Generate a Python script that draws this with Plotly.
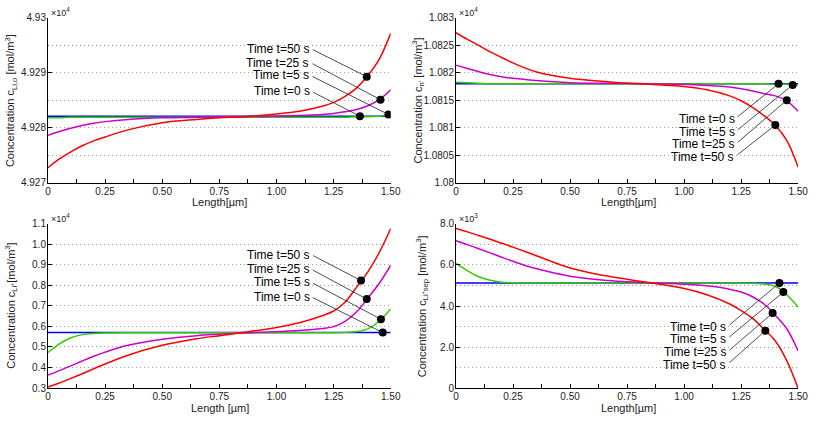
import plotly.graph_objects as go

FIG_W, FIG_H = 818, 421

# shared x positions (Length in um)
length_um = [0, 0.05, 0.1, 0.15, 0.2, 0.25, 0.35, 0.5, 0.65, 0.75, 0.85,
             1.0, 1.1, 1.2, 1.25, 1.3, 1.35, 1.4, 1.45, 1.5]

time_labels = ["Time t=0 s", "Time t=5 s", "Time t=25 s", "Time t=50 s"]
line_colors = ["#0000ff", "#33cc00", "#cc00cc", "#ff0000"]

# top left: c_Li,o  (x1e4 mol/m^3)
clio_t0 = [4.92821] * 20
clio_t5 = [4.92818, 4.92818, 4.92819, 4.92819, 4.92819, 4.92819, 4.92819, 4.92819, 4.92819, 4.92819,
           4.92819, 4.92819, 4.92819, 4.92819, 4.92819, 4.92819, 4.92820, 4.92820, 4.92821, 4.92824]
clio_t25 = [4.92786, 4.92793, 4.92799, 4.92804, 4.92808, 4.92811, 4.92815, 4.92818, 4.92819, 4.92820,
            4.92820, 4.92821, 4.92822, 4.92824, 4.92826, 4.92829, 4.92833, 4.92840, 4.92851, 4.92869]
clio_t50 = [4.92727, 4.92743, 4.92756, 4.92767, 4.92776, 4.92783, 4.92796, 4.92809, 4.92815, 4.92818,
            4.92820, 4.92825, 4.92830, 4.92839, 4.92846, 4.92857, 4.92872, 4.92895, 4.92925, 4.92972]
clio_mark_x = [1.365, 1.49, 1.455, 1.395]
clio_mark_y = [4.92821, 4.92824, 4.92851, 4.92893]

# top right: c_n'  (x1e4 mol/m^3)
cn_t0 = [1.08180] * 20
cn_t5 = [1.08183, 1.08182, 1.08181, 1.08180, 1.08180, 1.08180, 1.08180, 1.08180, 1.08180, 1.08180,
         1.08180, 1.08180, 1.08180, 1.08180, 1.08180, 1.08180, 1.08180, 1.08179, 1.08179, 1.08178]
cn_t25 = [1.08214, 1.08208, 1.08202, 1.08197, 1.08193, 1.08190, 1.08186, 1.08182, 1.08181, 1.08181,
          1.08180, 1.08179, 1.08177, 1.08174, 1.08171, 1.08167, 1.08162, 1.08158, 1.08149, 1.08130]
cn_t50 = [1.08273, 1.08261, 1.08250, 1.08238, 1.08228, 1.08218, 1.08202, 1.08190, 1.08184, 1.08181,
          1.08179, 1.08175, 1.08169, 1.08158, 1.08149, 1.08137, 1.08122, 1.08104, 1.08077, 1.08028]
cn_mark_x = [1.414, 1.476, 1.45, 1.40]
cn_mark_y = [1.08180, 1.08178, 1.08150, 1.08105]

# bottom left: c_Li+  (x1e4 mol/m^3)
cli_t0 = [0.570] * 20
cli_t5 = [0.473, 0.515, 0.545, 0.560, 0.566, 0.568, 0.569, 0.569, 0.569, 0.569,
          0.569, 0.569, 0.569, 0.569, 0.569, 0.571, 0.575, 0.588, 0.625, 0.686]
cli_t25 = [0.363, 0.385, 0.408, 0.432, 0.455, 0.475, 0.508, 0.538, 0.555, 0.562,
           0.568, 0.574, 0.580, 0.590, 0.599, 0.625, 0.670, 0.738, 0.810, 0.898]
cli_t50 = [0.305, 0.325, 0.347, 0.370, 0.394, 0.417, 0.460, 0.508, 0.540, 0.555,
           0.570, 0.595, 0.618, 0.652, 0.675, 0.718, 0.790, 0.865, 0.960, 1.076]
cli_mark_x = [1.465, 1.457, 1.395, 1.37]
cli_mark_y = [0.570, 0.635, 0.733, 0.823]

# bottom right: c_Li+,sep  (x1e3 mol/m^3)
csep_t0 = [5.12] * 20
csep_t5 = [6.07, 5.72, 5.42, 5.25, 5.16, 5.13, 5.12, 5.12, 5.12, 5.12,
           5.12, 5.12, 5.12, 5.12, 5.11, 5.10, 5.07, 4.96, 4.55, 3.95]
csep_t25 = [7.17, 6.98, 6.78, 6.58, 6.37, 6.17, 5.82, 5.45, 5.25, 5.18,
            5.13, 5.06, 4.98, 4.82, 4.68, 4.45, 4.10, 3.55, 2.90, 1.82]
csep_t50 = [7.76, 7.60, 7.42, 7.24, 7.05, 6.86, 6.45, 5.85, 5.48, 5.30,
            5.13, 4.85, 4.55, 4.10, 3.78, 3.40, 2.88, 2.30, 1.35, 0.0]
csep_mark_x = [1.418, 1.435, 1.388, 1.356]
csep_mark_y = [5.12, 4.68, 3.66, 2.80]

x_tickvals = [0, 0.25, 0.5, 0.75, 1.0, 1.25, 1.5]
x_ticktext = ["0", "0.25", "0.50", "0.75", "1.00", "1.25", "1.50"]

# label offsets (px from marker to the leader-line tail), order t=0, 5, 25, 50
panels = [
    dict(series=[clio_t0, clio_t5, clio_t25, clio_t50], mx=clio_mark_x, my=clio_mark_y,
         yrange=[4.927, 4.93], yticks=[4.927, 4.928, 4.929, 4.93],
         ytext=["4.927", "4.928", "4.929", "4.93"], ygrid=0.0005,
         ytitle="Concentration c<sub>Li,o</sub> [mol/m<sup>3</sup>]", xtitle="Length[µm]",
         scale="×10<sup>4</sup>",
         dom_x=[45.7, 394], dom_y=[12.3, 181.7], ytitle_x=8, xtitle_x=220,
         offs=[(-47, -24), (-76, -38), (-68, -36), (-54, -27)], text_dy=-1),
    dict(series=[cn_t0, cn_t5, cn_t25, cn_t50], mx=cn_mark_x, my=cn_mark_y,
         yrange=[1.08, 1.083], yticks=[1.08, 1.0805, 1.081, 1.0815, 1.082, 1.0825, 1.083],
         ytext=["1.08", "1.0805", "1.081", "1.0815", "1.082", "1.0825", "1.083"], ygrid=None,
         ytitle="Concentration c<sub>n'</sub> [mol/m<sup>3</sup>]", xtitle="Length[µm]",
         scale="×10<sup>4</sup>",
         dom_x=[460.3, 808], dom_y=[12.3, 181.7], ytitle_x=422, xtitle_x=636,
         offs=[(-41, 33), (-55, 45), (-49, 42), (-38, 30)], text_dy=2),
    dict(series=[cli_t0, cli_t5, cli_t25, cli_t50], mx=cli_mark_x, my=cli_mark_y,
         yrange=[0.3, 1.1], yticks=[0.3, 0.4, 0.5, 0.6, 0.7, 0.8, 0.9, 1.0, 1.1],
         ytext=["0.3", "0.4", "0.5", "0.6", "0.7", "0.8", "0.9", "1.0", "1.1"], ygrid=None,
         ytitle="Concentration c<sub>Li⁺</sub>[mol/m<sup>3</sup>]", xtitle="Length [µm]",
         scale="×10<sup>4</sup>",
         dom_x=[45.7, 394], dom_y=[224, 393.3], ytitle_x=8, xtitle_x=221,
         offs=[(-70, -35), (-68, -36), (-54, -29), (-48, -25)], text_dy=-1),
    dict(series=[csep_t0, csep_t5, csep_t25, csep_t50], mx=csep_mark_x, my=csep_mark_y,
         yrange=[0, 8], yticks=[0, 2, 4, 6, 8],
         ytext=["0", "2.0", "4.0", "6.0", "8.0"], ygrid=1,
         ytitle="Concentration c<sub>Li⁺sep</sub> [mol/m<sup>3</sup>]", xtitle="Length[µm]",
         scale="×10<sup>3</sup>",
         dom_x=[460.3, 808], dom_y=[224, 393.7], ytitle_x=426, xtitle_x=636,
         offs=[(-50, 42), (-54, 45), (-43, 37), (-36, 32)], text_dy=2),
]

FONT = "Liberation Sans, Arial, sans-serif"
GRID = "#a0a0a0"
DOTS = "1px,3px"

fig = go.Figure()
annotations = []
shapes = []
layout = {}

for i, p in enumerate(panels):
    n = "" if i == 0 else str(i + 1)
    xa, ya = "x" + n, "y" + n
    for ser, col, name in zip(p["series"], line_colors, time_labels):
        fig.add_trace(go.Scatter(x=length_um, y=ser, mode="lines", name=name,
                                 line=dict(color=col, width=1.5, shape="spline"),
                                 xaxis=xa, yaxis=ya, showlegend=False))
    fig.add_trace(go.Scatter(x=p["mx"], y=p["my"], mode="markers",
                             marker=dict(color="black", size=8, symbol="circle"),
                             xaxis=xa, yaxis=ya, showlegend=False))

    x0, x1 = p["dom_x"]
    y0, y1 = p["dom_y"]
    layout["xaxis" + n] = dict(
        domain=[x0 / FIG_W, x1 / FIG_W], range=[0, 1.5], anchor=ya,
        showline=True, linecolor="black", linewidth=1, mirror=False,
        ticks="inside", ticklen=4, tickcolor="black",
        tickvals=x_tickvals, ticktext=x_ticktext, ticklabelstandoff=-1,
        minor=dict(dtick=0.125, tick0=0, ticks="inside", ticklen=4, tickcolor="black", showgrid=False),
        showgrid=False, zeroline=False, tickfont=dict(size=10, color="#222"))
    ydict = dict(
        domain=[1 - y1 / FIG_H, 1 - y0 / FIG_H], range=p["yrange"], anchor=xa,
        showline=True, linecolor="black", linewidth=1, mirror=False,
        ticks="inside", ticklen=4, tickcolor="black",
        tickvals=p["yticks"], ticktext=p["ytext"], ticklabelstandoff=-1,
        showgrid=True, gridcolor=GRID, griddash=DOTS, gridwidth=1,
        zeroline=False, tickfont=dict(size=10, color="#222"))
    if p["ygrid"]:
        ydict["minor"] = dict(dtick=p["ygrid"], tick0=p["yrange"][0], showgrid=True,
                              gridcolor=GRID, griddash=DOTS, gridwidth=1, ticks="")
    layout["yaxis" + n] = ydict

    # axis titles
    annotations.append(dict(text=p["ytitle"], textangle=-90, xref="paper", yref="paper",
                            x=p["ytitle_x"] / FIG_W, y=1 - (y0 + y1) / 2 / FIG_H,
                            xanchor="center", yanchor="middle",
                            showarrow=False, font=dict(size=11, color="#222")))
    annotations.append(dict(text=p["xtitle"], xref="paper", yref="paper",
                            x=p["xtitle_x"] / FIG_W, y=1 - (y1 + 20) / FIG_H,
                            xanchor="center", yanchor="middle",
                            showarrow=False, font=dict(size=11, color="#222")))
    annotations.append(dict(text=p["scale"], xref="paper", yref="paper",
                            x=(x0 + 1) / FIG_W, y=1 - (y0 - 6) / FIG_H,
                            xanchor="left", yanchor="middle",
                            showarrow=False, font=dict(size=9, color="#222")))

    # time labels with leader lines
    for lab, mx, my, (ax, ay) in zip(time_labels, p["mx"], p["my"], p["offs"]):
        shapes.append(dict(type="line", xref=xa, yref=ya, xsizemode="pixel", ysizemode="pixel",
                           xanchor=mx, yanchor=my, x0=0, y0=0, x1=ax, y1=-ay,
                           line=dict(color="#222", width=0.8)))
        annotations.append(dict(text=lab, x=mx, y=my, xref=xa, yref=ya,
                                xshift=ax - 1, yshift=-ay - p["text_dy"],
                                xanchor="right", yanchor="middle", showarrow=False,
                                font=dict(size=12, color="black")))

fig.update_layout(**layout)
fig.update_layout(width=FIG_W, height=FIG_H, margin=dict(l=0, r=0, t=0, b=0),
                  paper_bgcolor="white", plot_bgcolor="white",
                  font=dict(family=FONT, size=10, color="#222"),
                  annotations=annotations, shapes=shapes, showlegend=False)

# page body has a default 8px margin; remove it so the figure sits at the window corner
fig.write_html("out.html", config={"displayModeBar": False},
               post_script="document.body.style.margin='0';")
